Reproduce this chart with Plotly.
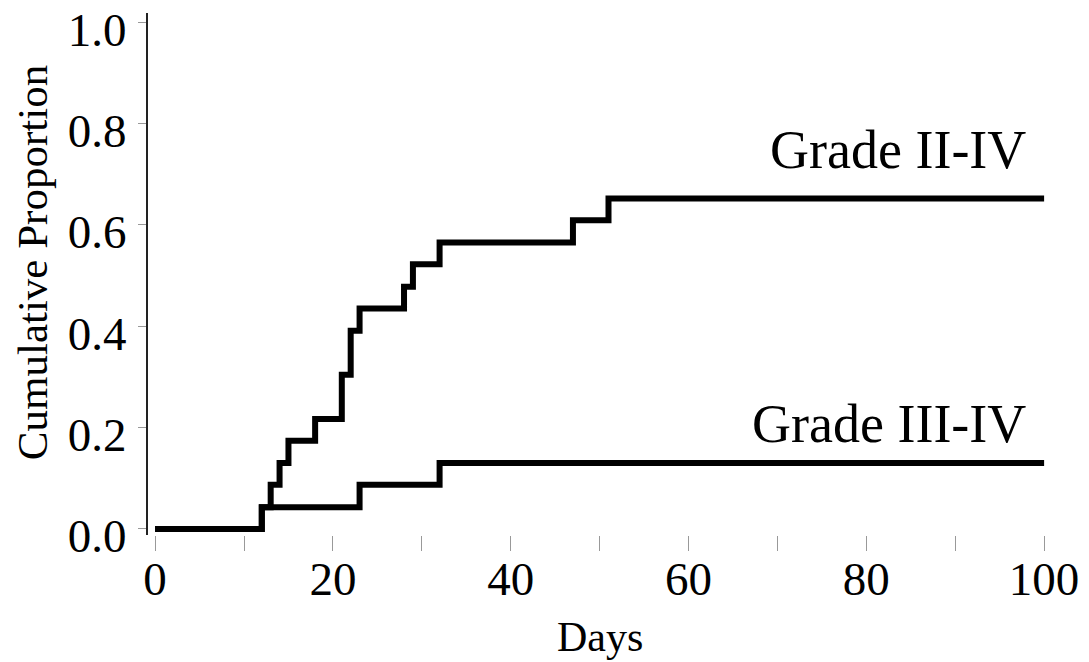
import plotly.graph_objects as go

days_2_4 = [0, 12, 13, 14, 15, 18, 21, 22, 23, 28, 29, 32, 47, 51, 100]
prop_2_4 = [0.0, 0.043, 0.087, 0.130, 0.174, 0.217, 0.304, 0.391, 0.435, 0.478, 0.522, 0.565, 0.609, 0.652, 0.652]

days_3_4 = [0, 12, 23, 32, 100]
prop_3_4 = [0.0, 0.043, 0.087, 0.130, 0.130]

series_labels = ["Grade II-IV", "Grade III-IV"]
label_y = [0.748, 0.208]

x_ticks = [0, 20, 40, 60, 80, 100]
y_ticks = [0.0, 0.2, 0.4, 0.6, 0.8, 1.0]
y_tick_text = ["0.0", "0.2", "0.4", "0.6", "0.8", "1.0"]

FONT = "Liberation Serif, Times New Roman, serif"

fig = go.Figure()
for xs, ys, name in [(days_2_4, prop_2_4, series_labels[0]), (days_3_4, prop_3_4, series_labels[1])]:
    fig.add_trace(go.Scatter(x=xs, y=ys, mode="lines", line=dict(color="black", width=6, shape="hv"),
                             name=name, showlegend=False))

for name, yy in zip(series_labels, label_y):
    fig.add_annotation(x=98.2, y=yy, text=name, showarrow=False, xanchor="right", yanchor="middle",
                       font=dict(family=FONT, size=54, color="black"))

# axis titles
fig.add_annotation(x=50, xref="x", y=-0.195, yref="paper", text="Days", showarrow=False,
                   xanchor="center", yanchor="middle", font=dict(family=FONT, size=42, color="black"))
fig.add_annotation(x=-0.128, xref="paper", y=0.521, yref="paper", text="Cumulative Proportion",
                   showarrow=False, textangle=-90, xanchor="center", yanchor="middle",
                   font=dict(family=FONT, size=43, color="black"))

# the page body adds an 8px offset, so the figure is 8px smaller
fig.update_layout(
    width=1081, height=654,
    margin=dict(l=140, r=36, t=5, b=127),
    paper_bgcolor="white", plot_bgcolor="white",
    font=dict(family=FONT, color="black"),
)
fig.update_xaxes(
    range=[-0.8, 101], tickvals=x_ticks, ticktext=[str(v) for v in x_ticks],
    showgrid=False, zeroline=False, showline=False, automargin=False,
    ticks="outside", ticklen=15, tickwidth=1, tickcolor="#999",
    minor=dict(dtick=10, ticks="outside", ticklen=15, tickwidth=1, tickcolor="#999", showgrid=False),
    tickfont=dict(family=FONT, size=47, color="black"),
    ticklabeloverflow="allow", ticklabelstandoff=-12,
)
fig.update_yaxes(
    range=[-0.012, 1.018], tickvals=y_ticks, ticktext=y_tick_text,
    showgrid=False, zeroline=False, showline=True, linecolor="#222", linewidth=2, automargin=False,
    ticks="outside", ticklen=8, tickwidth=1, tickcolor="#999",
    tickfont=dict(family=FONT, size=47, color="black"),
    ticklabeloverflow="allow", ticklabelstandoff=2, ticklabelshift=7,
)

fig.write_html("out.html")
